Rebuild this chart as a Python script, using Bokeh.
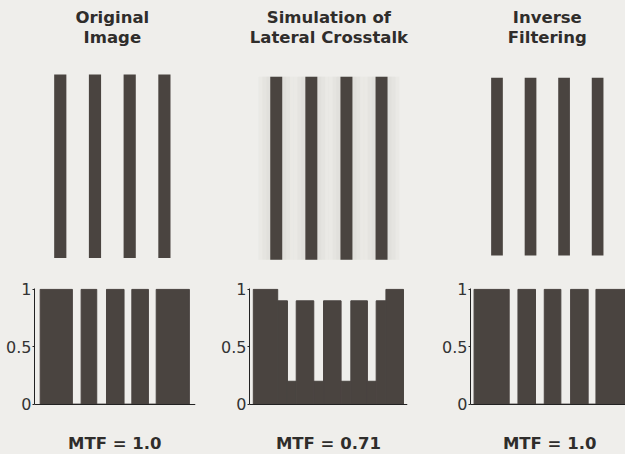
from bokeh.plotting import figure
from bokeh.layouts import column, row
from bokeh.models import Range1d, NumeralTickFormatter, LinearAxis
from bokeh.core.properties import value
from bokeh.embed import file_html
from bokeh.resources import INLINE

# ---------------- data ----------------
titles = [["Original", "Image"],
          ["Simulation of", "Lateral Crosstalk"],
          ["Inverse", "Filtering"]]
bar_index = [0, 1, 2, 3]          # four vertical bars in each test image
bar_level = [1, 1, 1, 1]

orig_edges = [0, 33, 42, 58, 68, 86, 94, 111, 119, 153]
orig_levels = [1, 0, 1, 0, 1, 0, 1, 0, 1]

cross_edges = [0, 25, 35, 44, 62, 72, 90, 100, 117, 126, 136, 154]
cross_levels = [1, 0.9, 0.2, 0.9, 0.2, 0.9, 0.2, 0.9, 0.2, 0.9, 1]

inv_edges = [0, 36, 45, 63, 72, 89, 99, 117, 125, 155]
inv_levels = [1, 0, 1, 0, 1, 0, 1, 0, 1]

mtf_labels = ["MTF = 1.0", "MTF = 0.71", "MTF = 1.0"]
y_ticks = [0, 0.5, 1]

# ---------------- styling / layout ----------------
PAPER = "#efeeeb"
INK = "#4a4440"
TXT = "#2f2d2b"
AX = "#222222"
FONT = "DejaVu Sans"

W, H = 625, 454                       # content size
SX, SY = W / 641.0, H / 470.0          # reference -> content scale


def X(x):
    return x * SX


def Y(y):
    return y * SY


col_left = [0, 217, 437]
col_right = [217, 437, 625]
TOP_H = 275
BOT_H = H - TOP_H

# top panels geometry (reference px)
TOP = [dict(c0=61.3, pitch=35.6, top=76.7, bot=266.7, bw=12.5),
       dict(c0=282.8, pitch=36.0, top=79.0, bot=268.3, bw=12.3),
       dict(c0=509.2, pitch=34.4, top=80.0, bot=264.0, bw=12.0)]
TITLE_TOP = [8.0, 28.5]

# bottom panels geometry (reference px)
frame_left = [35, 255, 482]
frame_right = [200, 417, 641]
fill_start = [40.7, 259.3, 485.7]
FR_TOP, FR_ZERO, FR_ONE = 298, 418, 299
MTF_TOP = 449


def base_fig(**kw):
    p = figure(toolbar_location=None, output_backend="svg", title=None, **kw)
    p.background_fill_color = PAPER
    p.border_fill_color = PAPER
    p.outline_line_color = None
    return p


def top_fig(i):
    g = TOP[i]
    left, right = col_left[i], col_right[i]
    c0 = X(g["c0"])
    pitch = g["pitch"] * SX
    ytop, ybot = Y(g["top"]), Y(g["bot"])
    h = ybot - ytop
    x0 = (left - c0) / pitch
    x1 = (right - c0) / pitch
    y0 = (ybot - TOP_H) / h
    y1 = ybot / h
    p = base_fig(width=right - left, height=TOP_H,
                 x_range=Range1d(x0, x1), y_range=Range1d(y0, y1),
                 x_axis_location=None, y_axis_location=None, min_border=0)
    p.grid.visible = False
    bw = g["bw"] * SX / pitch
    if i == 1:
        # faint crosstalk halo around the bars
        for extra in (24, 16, 8):
            p.vbar(x=bar_index, width=bw + extra * SX / pitch, top=bar_level,
                   bottom=0, fill_color="#c9c7c3", fill_alpha=0.13, line_color=None)
    p.vbar(x=bar_index, width=bw, top=bar_level, bottom=0,
           fill_color=INK, line_color=None)
    ys = [(ybot - Y(b)) / h for b in TITLE_TOP]
    xc = (bar_index[0] + bar_index[-1]) / 2
    p.text(x=[xc, xc], y=ys, text=titles[i], text_align="center",
           text_baseline="top", text_font=value(FONT),
           text_font_style="bold", text_font_size="16.5px", text_color=TXT)
    return p


def bot_fig(i, edges, levels):
    left, right = col_left[i], col_right[i]
    fl = round(X(frame_left[i]))
    fr = min(round(X(frame_right[i])), right)
    fs = X(fill_start[i])
    sxu = SX                                    # content px per data unit
    ft = round(Y(FR_TOP)) - TOP_H               # frame top inside figure
    yzero = Y(FR_ZERO) - TOP_H
    syu = Y(FR_ZERO) - Y(FR_ONE)                # content px per y unit
    MB = 2
    fb = BOT_H - MB                             # frame bottom inside figure
    y_end = (yzero - ft) / syu
    y_start = -(fb - yzero) / syu
    p = base_fig(width=right - left, height=BOT_H,
                 x_range=Range1d((fl - fs) / sxu, (fr - fs) / sxu),
                 y_range=Range1d(y_start, y_end),
                 x_axis_location=None,
                 min_border_left=fl - left, min_border_right=right - fr,
                 min_border_top=ft, min_border_bottom=MB)
    p.grid.visible = False
    p.quad(left=edges[:-1], right=edges[1:], bottom=0, top=levels,
           fill_color=INK, line_color=INK, line_width=1)

    ya = p.yaxis[0]
    ya.ticker = y_ticks
    ya.bounds = (0, y_end)
    ya.formatter = NumeralTickFormatter(format="0.[0]")
    ya.major_label_text_font = FONT
    ya.major_label_text_font_size = "16px"
    ya.major_label_text_color = "#333333"
    ya.major_tick_out = 2
    ya.major_tick_in = 0
    ya.minor_tick_out = 0
    ya.minor_tick_in = 0
    ya.major_label_standoff = 1
    ya.axis_line_color = AX
    ya.major_tick_line_color = AX

    xa = LinearAxis(fixed_location=0, ticker=[], major_tick_out=0, major_tick_in=0,
                    minor_tick_out=0, minor_tick_in=0, major_label_standoff=0,
                    axis_label_standoff=0, axis_line_color=AX)
    p.add_layout(xa, "below")

    mid = (edges[0] + edges[-1]) / 2
    yl = -(Y(MTF_TOP) - Y(FR_ZERO)) / syu
    p.text(x=[mid], y=[yl], text=[mtf_labels[i]], text_align="center",
           text_baseline="top", text_font=value(FONT),
           text_font_style="bold", text_font_size="16.5px", text_color=TXT)
    return p


tops = [top_fig(i) for i in range(3)]
bots = [bot_fig(0, orig_edges, orig_levels),
        bot_fig(1, cross_edges, cross_levels),
        bot_fig(2, inv_edges, inv_levels)]

bg = {"background-color": PAPER}
layout = column(row(*tops, styles=bg), row(*bots, styles=bg), styles=bg)

open("out.html", "w").write(file_html(layout, INLINE))
